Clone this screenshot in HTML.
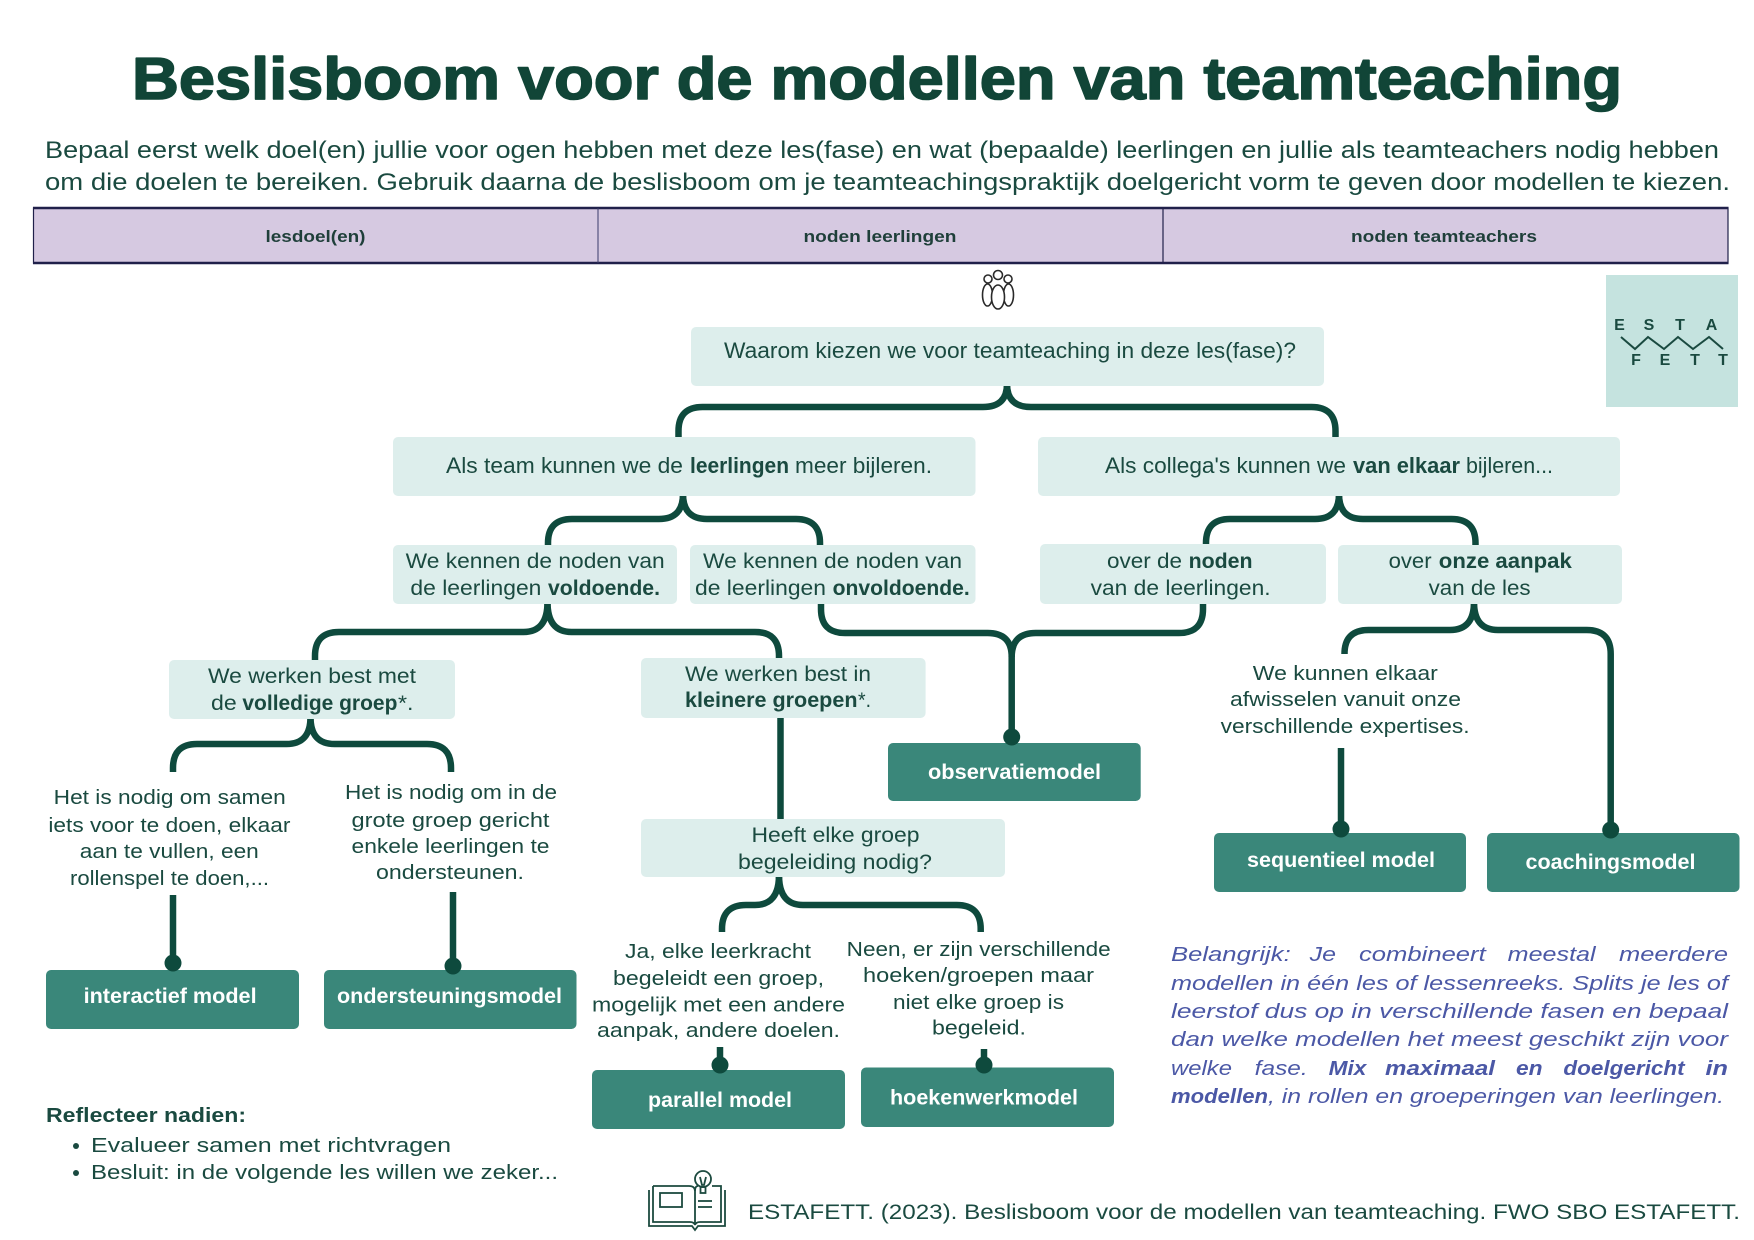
<!DOCTYPE html>
<html lang="nl">
<head>
<meta charset="utf-8">
<title>Beslisboom voor de modellen van teamteaching</title>
<style>
  html,body{margin:0;padding:0;background:#ffffff;}
  svg{display:block;}
  .t{font-family:"Liberation Sans",sans-serif;fill:#1a4a40;}
  .b{font-weight:bold;}
  .w{font-family:"Liberation Sans",sans-serif;fill:#ffffff;font-weight:bold;font-size:21px;}
  .bl{font-family:"Liberation Sans",sans-serif;fill:#4b58a6;font-style:italic;font-size:20px;}
  .conn{fill:none;stroke:#0e4a3d;stroke-width:6.5;}
  .lb{fill:#ddeeec;}
  .mb{fill:#3a877a;}
</style>
</head>
<body>
<svg width="1754" height="1240" viewBox="0 0 1754 1240" xmlns="http://www.w3.org/2000/svg">
  <rect x="0" y="0" width="1754" height="1240" fill="#ffffff"/>

  <!-- Title -->
  <text class="t b" x="132" y="99" font-size="59" style="fill:#114537;stroke:#114537;stroke-width:1.6;stroke-linejoin:round" textLength="1490" lengthAdjust="spacingAndGlyphs">Beslisboom voor de modellen van teamteaching</text>

  <!-- Subtitle -->
  <text class="t" x="45" y="158" font-size="24" textLength="1674" lengthAdjust="spacingAndGlyphs">Bepaal eerst welk doel(en) jullie voor ogen hebben met deze les(fase) en wat (bepaalde) leerlingen en jullie als teamteachers nodig hebben</text>
  <text class="t" x="45" y="190" font-size="24" textLength="1685" lengthAdjust="spacingAndGlyphs">om die doelen te bereiken. Gebruik daarna de beslisboom om je teamteachingspraktijk doelgericht vorm te geven door modellen te kiezen.</text>

  <!-- Header table -->
  <rect x="33.5" y="208" width="1694.5" height="55" fill="#d6c9e1" stroke="#20204a" stroke-width="1.2"/>
  <line x1="33" y1="208" x2="1728.5" y2="208" stroke="#20204a" stroke-width="2.5"/>
  <line x1="33" y1="263" x2="1728.5" y2="263" stroke="#20204a" stroke-width="2.5"/>
  <line x1="598" y1="208" x2="598" y2="263" stroke="#3a3a6a" stroke-width="1"/>
  <line x1="1163" y1="208" x2="1163" y2="263" stroke="#20204a" stroke-width="1.2"/>
  <text class="t b" x="265.5" y="242" font-size="17" style="fill:#1f3f3a" textLength="100" lengthAdjust="spacingAndGlyphs">lesdoel(en)</text>
  <text class="t b" x="803.5" y="242" font-size="17" style="fill:#1f3f3a" textLength="153" lengthAdjust="spacingAndGlyphs">noden leerlingen</text>
  <text class="t b" x="1351" y="242" font-size="17" style="fill:#1f3f3a" textLength="186" lengthAdjust="spacingAndGlyphs">noden teamteachers</text>

  <!-- People icon -->
  <g stroke="#2a2a2a" stroke-width="1.6" fill="#ffffff">
    <ellipse cx="987.5" cy="295" rx="5" ry="11"/>
    <ellipse cx="1008.5" cy="295" rx="5" ry="11"/>
    <ellipse cx="998" cy="297" rx="6.5" ry="12"/>
    <circle cx="988" cy="279" r="4"/>
    <circle cx="1008" cy="279" r="4"/>
    <circle cx="998" cy="275" r="4.5"/>
  </g>

  <!-- ESTAFETT logo -->
  <rect x="1606" y="275" width="132" height="132" fill="#c5e3df"/>
  <g font-family="Liberation Sans, sans-serif" font-weight="bold" font-size="16" fill="#1a4a40" text-anchor="middle">
    <text x="1619.5" y="330">E</text>
    <text x="1649" y="330">S</text>
    <text x="1680" y="330">T</text>
    <text x="1711.5" y="330">A</text>
    <text x="1636" y="365">F</text>
    <text x="1665" y="365">E</text>
    <text x="1695" y="365">T</text>
    <text x="1723" y="365">T</text>
  </g>
  <polyline points="1621,337 1635,349 1648,337 1664,349 1678,337 1693,349 1709,337 1723,349" fill="none" stroke="#1a4a40" stroke-width="2"/>

  <!-- Connectors -->
  <path class="conn" d="M1007,384 Q1007,407 983,407 L702.5,407 Q678.5,407 678.5,431 L678.5,437"/>
  <path class="conn" d="M1007,384 Q1007,407 1031,407 L1311.5,407 Q1335.5,407 1335.5,431 L1335.5,437"/>
  <path class="conn" d="M683,494 Q683,519 659,519 L572,519 Q548,519 548,543 L548,545"/>
  <path class="conn" d="M683,494 Q683,519 707,519 L796,519 Q820,519 820,543 L820,545"/>
  <path class="conn" d="M1339,494 Q1339,519 1315,519 L1230,519 Q1206,519 1206,543 L1206,545"/>
  <path class="conn" d="M1339,494 Q1339,519 1363,519 L1451.5,519 Q1475.5,519 1475.5,543 L1475.5,545"/>
  <path class="conn" d="M547.5,602 Q547.5,632 523.5,632 L339,632 Q315,632 315,656 L315,660"/>
  <path class="conn" d="M547.5,602 Q547.5,632 571.5,632 L755,632 Q779,632 779,656 L779,658"/>
  <path class="conn" d="M821,602 L821,609 Q821,633 845,633 L987.7,633 Q1011.7,633 1011.7,657 L1011.7,737"/>
  <path class="conn" d="M1203,602 L1203,609 Q1203,633 1179,633 L1035.7,633 Q1011.7,633 1011.7,657"/>
  <path class="conn" d="M1474,602 Q1474,630 1450,630 L1368.5,630 Q1344.5,630 1344.5,654"/>
  <path class="conn" d="M1474,602 Q1474,630 1498,630 L1586.7,630 Q1610.7,630 1610.7,654 L1610.7,830"/>
  <path class="conn" d="M310.5,717 Q310.5,744 286.5,744 L197,744 Q173,744 173,768 L173,772"/>
  <path class="conn" d="M310.5,717 Q310.5,744 334.5,744 L427,744 Q451,744 451,768 L451,772"/>
  <path class="conn" d="M779,875 Q779,905 755,905 L746,905 Q722,905 722,929 L722,932"/>
  <path class="conn" d="M779,875 Q779,905 803,905 L956.7,905 Q980.7,905 980.7,929 L980.7,932"/>
  <path class="conn" d="M780.5,716 L780.5,821"/>
  <path class="conn" d="M173,895 L173,963"/>
  <path class="conn" d="M453,892 L453,966"/>
  <path class="conn" d="M720,1047 L720,1065"/>
  <path class="conn" d="M984,1049 L984,1065"/>
  <path class="conn" d="M1341,748 L1341,829"/>

  <!-- Light boxes -->
  <rect class="lb" x="691" y="327" width="633" height="59" rx="5"/>
  <rect class="lb" x="393" y="437" width="582.5" height="59" rx="5"/>
  <rect class="lb" x="1038" y="437" width="582" height="59" rx="5"/>
  <rect class="lb" x="393" y="545" width="284" height="59" rx="5"/>
  <rect class="lb" x="690" y="545" width="285.5" height="59" rx="5"/>
  <rect class="lb" x="1040" y="544" width="286" height="60" rx="5"/>
  <rect class="lb" x="1338" y="545" width="284" height="59" rx="5"/>
  <rect class="lb" x="169" y="660" width="286" height="59" rx="5"/>
  <rect class="lb" x="641" y="658" width="284.6" height="60" rx="5"/>
  <rect class="lb" x="641" y="819" width="364" height="58" rx="5"/>

  <!-- Model boxes -->
  <rect class="mb" x="46" y="970" width="253" height="59" rx="5"/>
  <rect class="mb" x="324" y="970" width="252.5" height="59" rx="5"/>
  <rect class="mb" x="888" y="743" width="252.7" height="58" rx="5"/>
  <rect class="mb" x="592" y="1070" width="253" height="59" rx="5"/>
  <rect class="mb" x="861" y="1067.5" width="253" height="59.5" rx="5"/>
  <rect class="mb" x="1214" y="833" width="252" height="59" rx="5"/>
  <rect class="mb" x="1487" y="833" width="252.5" height="59" rx="5"/>

  <!-- Dots -->
  <g fill="#0e4a3d">
    <circle cx="173" cy="963" r="8.5"/>
    <circle cx="453" cy="966" r="8.5"/>
    <circle cx="720" cy="1065" r="8.5"/>
    <circle cx="984" cy="1065" r="8.5"/>
    <circle cx="1011.7" cy="737" r="8.5"/>
    <circle cx="1341" cy="829" r="8.5"/>
    <circle cx="1610.7" cy="830" r="8.5"/>
  </g>

  <!-- Light box texts -->
  <text class="t" x="724" y="358" font-size="22" textLength="572" lengthAdjust="spacingAndGlyphs">Waarom kiezen we voor teamteaching in deze les(fase)?</text>

  <text class="t" x="446" y="473" font-size="22" textLength="237" lengthAdjust="spacingAndGlyphs">Als team kunnen we de</text>
  <text class="t b" x="690" y="473" font-size="22" textLength="99" lengthAdjust="spacingAndGlyphs">leerlingen</text>
  <text class="t" x="795" y="473" font-size="22" textLength="137" lengthAdjust="spacingAndGlyphs">meer bijleren.</text>

  <text class="t" x="1105" y="473" font-size="22" textLength="241" lengthAdjust="spacingAndGlyphs">Als collega's kunnen we</text>
  <text class="t b" x="1353" y="473" font-size="22" textLength="107" lengthAdjust="spacingAndGlyphs">van elkaar</text>
  <text class="t" x="1466" y="473" font-size="22" textLength="87" lengthAdjust="spacingAndGlyphs">bijleren...</text>

  <text class="t" x="405.7" y="568" font-size="21" textLength="259" lengthAdjust="spacingAndGlyphs">We kennen de noden van</text>
  <text class="t" x="410.4" y="595" font-size="21" textLength="131" lengthAdjust="spacingAndGlyphs">de leerlingen</text>
  <text class="t b" x="548" y="595" font-size="21" textLength="112" lengthAdjust="spacingAndGlyphs">voldoende.</text>

  <text class="t" x="703" y="568" font-size="21" textLength="259" lengthAdjust="spacingAndGlyphs">We kennen de noden van</text>
  <text class="t" x="695" y="595" font-size="21" textLength="131" lengthAdjust="spacingAndGlyphs">de leerlingen</text>
  <text class="t b" x="832.7" y="595" font-size="21" textLength="137" lengthAdjust="spacingAndGlyphs">onvoldoende.</text>

  <text class="t" x="1107" y="568" font-size="21" textLength="75" lengthAdjust="spacingAndGlyphs">over de</text>
  <text class="t b" x="1188.6" y="568" font-size="21" textLength="64" lengthAdjust="spacingAndGlyphs">noden</text>
  <text class="t" x="1090.6" y="595" font-size="21" textLength="180" lengthAdjust="spacingAndGlyphs">van de leerlingen.</text>

  <text class="t" x="1388.6" y="568" font-size="21" textLength="43" lengthAdjust="spacingAndGlyphs">over</text>
  <text class="t b" x="1438.8" y="568" font-size="21" textLength="133" lengthAdjust="spacingAndGlyphs">onze aanpak</text>
  <text class="t" x="1428.6" y="595" font-size="21" textLength="102" lengthAdjust="spacingAndGlyphs">van de les</text>

  <text class="t" x="208" y="683" font-size="21" textLength="208" lengthAdjust="spacingAndGlyphs">We werken best met</text>
  <text class="t" x="211" y="710" font-size="21" textLength="25.7" lengthAdjust="spacingAndGlyphs">de</text>
  <text class="t b" x="242.4" y="710" font-size="21" textLength="155" lengthAdjust="spacingAndGlyphs">volledige groep</text>
  <text class="t" x="398" y="710" font-size="21" textLength="15.5" lengthAdjust="spacingAndGlyphs">*.</text>

  <text class="t" x="685" y="681" font-size="21" textLength="186" lengthAdjust="spacingAndGlyphs">We werken best in</text>
  <text class="t b" x="685" y="707" font-size="21" textLength="172.5" lengthAdjust="spacingAndGlyphs">kleinere groepen</text>
  <text class="t" x="858" y="707" font-size="21" textLength="13" lengthAdjust="spacingAndGlyphs">*.</text>

  <text class="t" x="751.5" y="842" font-size="21" textLength="168" lengthAdjust="spacingAndGlyphs">Heeft elke groep</text>
  <text class="t" x="738" y="869" font-size="21" textLength="194" lengthAdjust="spacingAndGlyphs">begeleiding nodig?</text>

  <!-- Descriptive texts -->
  <text class="t" x="53.7" y="804" font-size="20" textLength="232" lengthAdjust="spacingAndGlyphs">Het is nodig om samen</text>
  <text class="t" x="48.4" y="832" font-size="20" textLength="242" lengthAdjust="spacingAndGlyphs">iets voor te doen, elkaar</text>
  <text class="t" x="79.8" y="858" font-size="20" textLength="179" lengthAdjust="spacingAndGlyphs">aan te vullen, een</text>
  <text class="t" x="70" y="885" font-size="20" textLength="199" lengthAdjust="spacingAndGlyphs">rollenspel te doen,...</text>

  <text class="t" x="345" y="799" font-size="20" textLength="212" lengthAdjust="spacingAndGlyphs">Het is nodig om in de</text>
  <text class="t" x="351.5" y="827" font-size="20" textLength="198" lengthAdjust="spacingAndGlyphs">grote groep gericht</text>
  <text class="t" x="351.5" y="853" font-size="20" textLength="198" lengthAdjust="spacingAndGlyphs">enkele leerlingen te</text>
  <text class="t" x="376" y="879" font-size="20" textLength="148" lengthAdjust="spacingAndGlyphs">ondersteunen.</text>

  <text class="t" x="625" y="958" font-size="20" textLength="186" lengthAdjust="spacingAndGlyphs">Ja, elke leerkracht</text>
  <text class="t" x="613" y="985" font-size="20" textLength="211" lengthAdjust="spacingAndGlyphs">begeleidt een groep,</text>
  <text class="t" x="592" y="1011.5" font-size="20" textLength="253" lengthAdjust="spacingAndGlyphs">mogelijk met een andere</text>
  <text class="t" x="597" y="1037" font-size="20" textLength="243" lengthAdjust="spacingAndGlyphs">aanpak, andere doelen.</text>

  <text class="t" x="846.7" y="956" font-size="20" textLength="264" lengthAdjust="spacingAndGlyphs">Neen, er zijn verschillende</text>
  <text class="t" x="863" y="982" font-size="20" textLength="231" lengthAdjust="spacingAndGlyphs">hoeken/groepen maar</text>
  <text class="t" x="893" y="1009" font-size="20" textLength="171" lengthAdjust="spacingAndGlyphs">niet elke groep is</text>
  <text class="t" x="932" y="1034.6" font-size="20" textLength="94" lengthAdjust="spacingAndGlyphs">begeleid.</text>

  <text class="t" x="1252.8" y="680" font-size="20" textLength="185" lengthAdjust="spacingAndGlyphs">We kunnen elkaar</text>
  <text class="t" x="1230" y="706" font-size="20" textLength="231" lengthAdjust="spacingAndGlyphs">afwisselen vanuit onze</text>
  <text class="t" x="1220.6" y="733" font-size="20" textLength="249" lengthAdjust="spacingAndGlyphs">verschillende expertises.</text>

  <!-- Model box texts -->
  <text class="w" x="83.6" y="1003" textLength="173" lengthAdjust="spacingAndGlyphs">interactief model</text>
  <text class="w" x="337" y="1003" textLength="225" lengthAdjust="spacingAndGlyphs">ondersteuningsmodel</text>
  <text class="w" x="928" y="779" textLength="173" lengthAdjust="spacingAndGlyphs">observatiemodel</text>
  <text class="w" x="648" y="1107" textLength="144" lengthAdjust="spacingAndGlyphs">parallel model</text>
  <text class="w" x="890" y="1104.5" textLength="188" lengthAdjust="spacingAndGlyphs">hoekenwerkmodel</text>
  <text class="w" x="1247" y="867" textLength="188" lengthAdjust="spacingAndGlyphs">sequentieel model</text>
  <text class="w" x="1525.5" y="869" textLength="170" lengthAdjust="spacingAndGlyphs">coachingsmodel</text>

  <!-- Belangrijk paragraph -->
  <text class="bl" x="1171" y="961" textLength="119.7" lengthAdjust="spacingAndGlyphs">Belangrijk:</text>
  <text class="bl" x="1309.6" y="961" textLength="26.4" lengthAdjust="spacingAndGlyphs">Je</text>
  <text class="bl" x="1359" y="961" textLength="126.7" lengthAdjust="spacingAndGlyphs">combineert</text>
  <text class="bl" x="1507.7" y="961" textLength="87.9" lengthAdjust="spacingAndGlyphs">meestal</text>
  <text class="bl" x="1619" y="961" textLength="109" lengthAdjust="spacingAndGlyphs">meerdere</text>

  <text class="bl" x="1171" y="990" textLength="557" lengthAdjust="spacingAndGlyphs">modellen in één les of lessenreeks. Splits je les of</text>
  <text class="bl" x="1171" y="1018" textLength="557" lengthAdjust="spacingAndGlyphs">leerstof dus op in verschillende fasen en bepaal</text>
  <text class="bl" x="1171" y="1046" textLength="557" lengthAdjust="spacingAndGlyphs">dan welke modellen het meest geschikt zijn voor</text>

  <text class="bl" x="1171" y="1075" textLength="61" lengthAdjust="spacingAndGlyphs">welke</text>
  <text class="bl" x="1254.7" y="1075" textLength="53" lengthAdjust="spacingAndGlyphs">fase.</text>
  <text class="bl" x="1328.6" y="1075" font-weight="bold" textLength="37.8" lengthAdjust="spacingAndGlyphs">Mix</text>
  <text class="bl" x="1385" y="1075" font-weight="bold" textLength="110" lengthAdjust="spacingAndGlyphs">maximaal</text>
  <text class="bl" x="1516" y="1075" font-weight="bold" textLength="26.6" lengthAdjust="spacingAndGlyphs">en</text>
  <text class="bl" x="1563.4" y="1075" font-weight="bold" textLength="121.2" lengthAdjust="spacingAndGlyphs">doelgericht</text>
  <text class="bl" x="1705.5" y="1075" font-weight="bold" textLength="22.5" lengthAdjust="spacingAndGlyphs">in</text>

  <text class="bl" x="1171" y="1103" font-weight="bold" textLength="97" lengthAdjust="spacingAndGlyphs">modellen</text>
  <text class="bl" x="1268" y="1103" textLength="456" lengthAdjust="spacingAndGlyphs">, in rollen en groeperingen van leerlingen.</text>

  <!-- Reflecteer -->
  <text class="t b" x="46" y="1122" font-size="20" textLength="200" lengthAdjust="spacingAndGlyphs">Reflecteer nadien:</text>
  <circle cx="76" cy="1146" r="3" fill="#1a4a40"/>
  <circle cx="76" cy="1173" r="3" fill="#1a4a40"/>
  <text class="t" x="91" y="1152" font-size="20" textLength="360" lengthAdjust="spacingAndGlyphs">Evalueer samen met richtvragen</text>
  <text class="t" x="91" y="1179" font-size="20" textLength="467" lengthAdjust="spacingAndGlyphs">Besluit: in de volgende les willen we zeker...</text>

  <!-- Book icon -->
  <g fill="none" stroke="#1c4a3f" stroke-width="1.8">
    <path d="M649,1190 L649,1226 L692,1226 L695,1230 L698,1226 L725,1226 L725,1190"/>
    <path d="M653,1186 L653,1222 L690,1222 Q694,1222 695,1225 L695,1191 Q695,1186 689,1186 L653,1186"/>
    <path d="M712,1186 L721,1186 L721,1222 L700,1222 Q696,1222 695,1225"/>
    <path d="M695,1191 Q695,1186 698,1186"/>
    <rect x="660" y="1193" width="22" height="14"/>
    <line x1="698" y1="1201" x2="712" y2="1201"/>
    <line x1="698" y1="1207" x2="712" y2="1207"/>
    <circle cx="703" cy="1179" r="8"/>
    <path d="M700,1177 L702,1185 L704,1185 L706,1177"/>
    <rect x="700.5" y="1187" width="5" height="6"/>
  </g>

  <!-- Credits -->
  <text class="t" x="748" y="1219" font-size="21" textLength="992" lengthAdjust="spacingAndGlyphs">ESTAFETT. (2023). Beslisboom voor de modellen van teamteaching. FWO SBO ESTAFETT.</text>
</svg>
</body>
</html>
